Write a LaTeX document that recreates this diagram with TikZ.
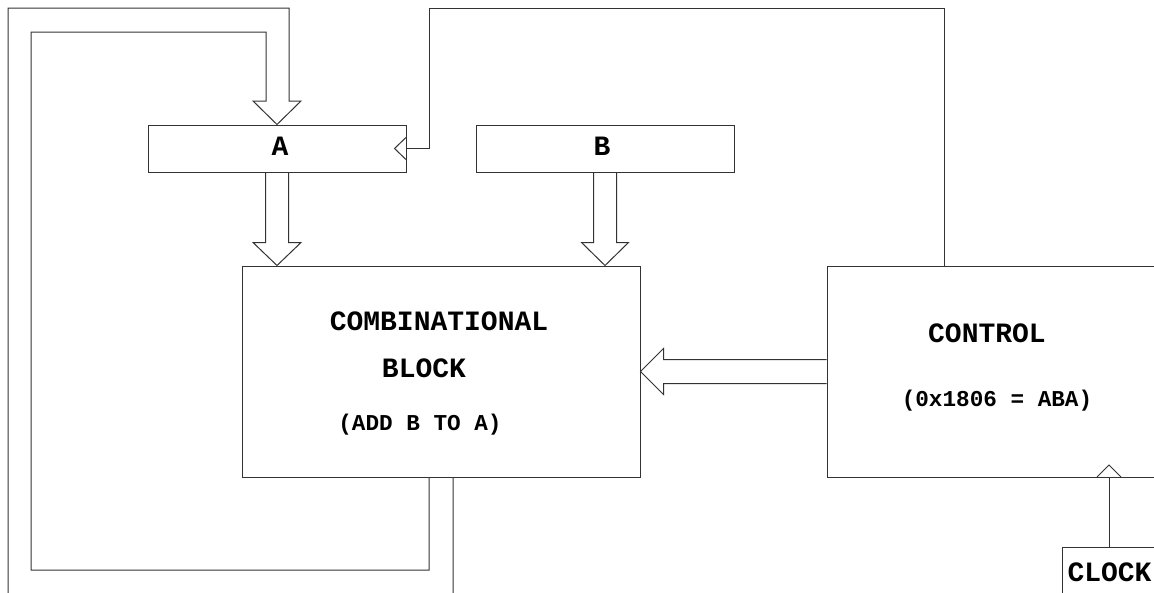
\documentclass[tikz,border=0pt]{standalone}
\usepackage{fontspec}
\setmonofont{Liberation Mono}
\usetikzlibrary{calc}
\begin{document}
\begin{tikzpicture}[x=0.75pt,y=-0.75pt,line width=0.75pt,
  wire/.style={draw=black!80,line width=0.75pt,line join=miter},
  regbox/.style={draw=black!80,rectangle,inner sep=0pt,minimum width=193.5pt,minimum height=35.25pt},
  bigbox/.style={draw=black!80,rectangle,inner sep=0pt,minimum height=158.25pt},
  head/.style={font=\fontsize{21pt}{21pt}\selectfont\ttfamily\bfseries,inner sep=0pt,anchor=base},
  sub/.style={font=\fontsize{17pt}{17pt}\selectfont\ttfamily\bfseries,inner sep=0pt,anchor=base}]
\useasboundingbox (0,0) rectangle (1154,593);
\clip (0,0) rectangle (1154,593);
\fill[white] (0,0) rectangle (1154,593);

% boxes
\node[regbox] (A) at (277,148.5) {};
\node[regbox] (B) at (605,148.5) {};
\node[bigbox,minimum width=298.5pt] (comb) at (441,371.5) {};
\node[bigbox,minimum width=257.25pt] (ctrl) at (998.5,371.5) {};
\node[draw=black!80,rectangle,inner sep=0pt,minimum width=81pt,minimum height=54.75pt] (clk) at (1116,583.5) {};

% labels
\node[head] (tA) at (280,155) {A};
\node[head] (tB) at (602,155) {B};
\node[head] (t1) at (439,330) {COMBINATIONAL};
\node[head] (t2) at (424,377) {BLOCK};
\node[sub]  (t3) at (420,430) {(ADD B TO A)};
\node[head] (t4) at (987,342.5) {CONTROL};
\node[sub]  (t5) at (997,406.5) {(0x1806 = ABA)};
\node[head,anchor=base west] (t6) at (1067,581.5) {CLOCK};

% bus A -> comb
\draw[wire] ($(A.south)+(-11.5,0)$) -- ($(A.south)+(-11.5,70)$) -- ($(A.south)+(-24,70)$)
  -- (A.south|-comb.north) -- ($(A.south)+(24,70)$) -- ($(A.south)+(11.5,70)$) -- ($(A.south)+(11.5,0)$);
% bus B -> comb
\draw[wire] ($(B.south)+(-11.5,0)$) -- ($(B.south)+(-11.5,70)$) -- ($(B.south)+(-23.5,70)$)
  -- (B.south|-comb.north) -- ($(B.south)+(23.5,70)$) -- ($(B.south)+(11.5,70)$) -- ($(B.south)+(11.5,0)$);
% bus control -> comb
\draw[wire] ($(ctrl.west)+(0,-12)$) -- ($(comb.east)+(23,-12)$) -- ($(comb.east)+(23,-23)$)
  -- (comb.east) -- ($(comb.east)+(23,23)$) -- ($(comb.east)+(23,12)$) -- ($(ctrl.west)+(0,12)$);
% feedback bus comb -> A
\coordinate (fbIn) at ($(comb.south)+(-12,0)$);
\coordinate (fbOut) at ($(comb.south)+(12,0)$);
\draw[wire] (fbIn) -- (429,570) -- (31,570) -- (31,32) -- (266,32) -- (266,101) -- (253,101)
  -- (A.north) -- (301,101) -- (289,101) -- (289,8) -- (8,8) -- (8,620) -- (453,620) -- (fbOut);

% clock input of A
\draw[wire] ($(A.east)+(0,-11.5)$) -- ($(A.east)+(-12,0)$) -- ($(A.east)+(0,11.5)$);
\coordinate (ctltop) at (944,266);
\draw[wire] (A.east) -- (429,148.5) -- (429,8) -- (944,8) -- (ctltop);

% clock input of control
\coordinate (cin) at (1109,477);
\draw[wire] (1097,477) -- (1109,465) -- (1121,477);
\draw[wire] (cin) -- (cin|-clk.north);
\end{tikzpicture}
\end{document}
